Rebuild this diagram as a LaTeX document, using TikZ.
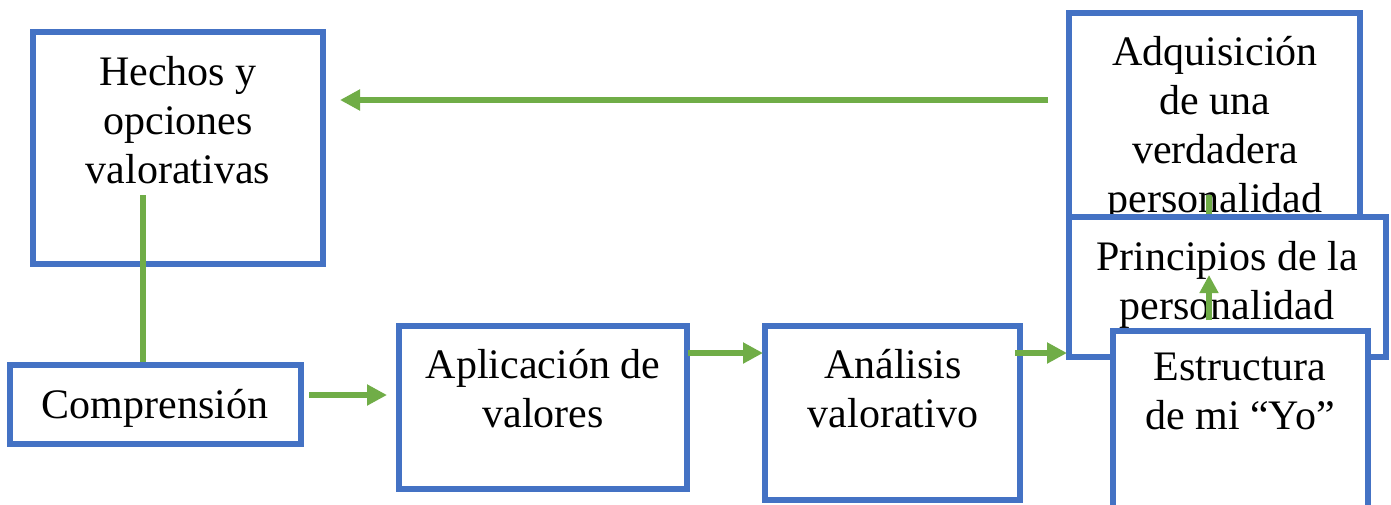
\documentclass[tikz,border=0pt]{standalone}
\usepackage{fontspec}
\setmainfont{Liberation Serif}
\usetikzlibrary{arrows.meta}
\definecolor{boxblue}{HTML}{4472C4}
\definecolor{arrgreen}{HTML}{70AD47}
\begin{document}
\begin{tikzpicture}[x=1pt,y=-1pt,
  box/.style={draw=boxblue,line width=6pt,fill=white,inner sep=0pt},
  txt/.style={font=\fontsize{42}{49}\selectfont,align=center,inner sep=0pt,anchor=north},
  conn/.style={draw=arrgreen,line width=6pt},
  arr/.style={conn,-{Triangle[length=20pt,width=20pt]}},
  arrsmall/.style={conn,-{Triangle[length=18pt,width=18pt]}}]
\clip (0,0) rectangle (1391,504);
\fill[white] (0,0) rectangle (1391,504);

% top right box
\node[box,minimum width=291pt,minimum height=247pt] (adq) at (1214.5,136.5) {};
\node[txt] (tadq) at (1215,36) {Adquisición\\de una\\verdadera\\personalidad};

% left top box
\node[box,minimum width=290pt,minimum height=232pt] (hechos) at (178,148) {};
\node[txt] (thechos) at (178,56) {Hechos y\\opciones\\valorativas};

\draw[arr] ([xshift=-18pt,yshift=36.5pt]adq.west) -- ([xshift=14pt,yshift=48pt]hechos.east);

% Comprension
\node[box,minimum width=291pt,minimum height=79pt] (compr) at (155.5,404.5) {};
\node[txt] (tcompr) at (155,389) {Comprensión};

\draw[conn] ([xshift=-12.5pt]compr.north) -- ([xshift=-35pt,yshift=72pt]hechos.south);

% Aplicacion
\node[box,minimum width=288pt,minimum height=163pt] (aplic) at (543,407.5) {};
\node[txt] (taplic) at (543,349) {Aplicación de\\valores};

% Analisis
\node[box,minimum width=255pt,minimum height=174pt] (anal) at (892.5,413) {};
\node[txt] (tanal) at (893,349) {Análisis\\valorativo};

\draw[arr] ([xshift=5pt,yshift=9.5pt]compr.east) -- ([xshift=-9pt,yshift=12.5pt]aplic.west);
\draw[arr] ([xshift=-2pt,yshift=54.5pt]aplic.east) -- ([xshift=1pt,yshift=60pt]anal.west);

% Principios
\node[box,minimum width=317pt,minimum height=140pt] (princ) at (1227.5,287) {};
\node[txt] (tprinc) at (1227,241) {Principios de la\\personalidad};
\draw[conn] ([xshift=-18.5pt]princ.north) -- ++(0,-19);

\draw[arr] ([xshift=-8pt,yshift=60pt]anal.east) -- ([xshift=1pt,yshift=-66pt]princ.west);

% Estructura
\node[box,minimum width=255pt,minimum height=200pt] (estr) at (1240.5,431) {};
\node[txt] (testr) at (1240,353) {Estructura\\de mi “Yo”};

\draw[arrsmall] ([xshift=-31.5pt,yshift=8pt]estr.north) -- ++(0,-45);
\end{tikzpicture}
\end{document}
